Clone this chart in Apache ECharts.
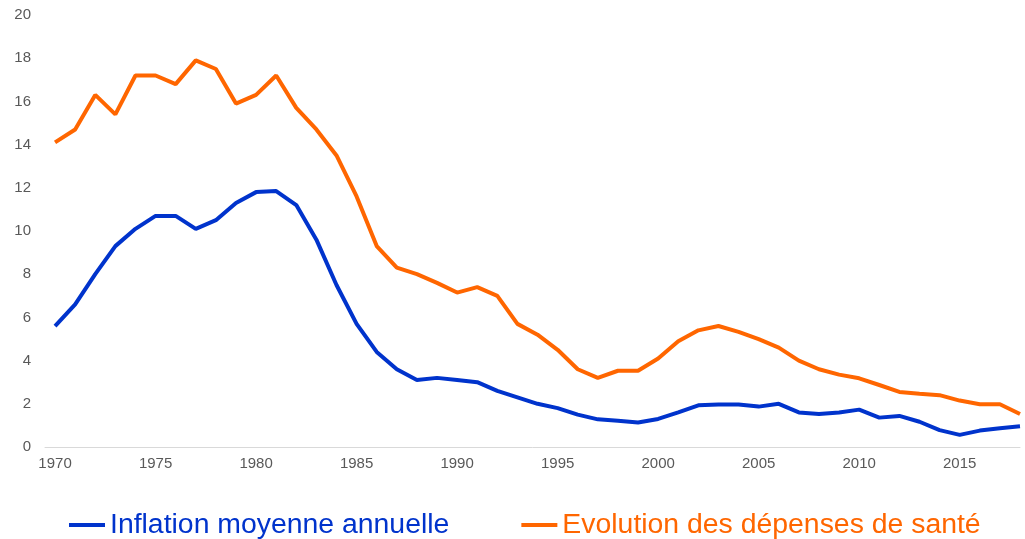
<!DOCTYPE html>
<html>
<head>
<meta charset="utf-8">
<script src="https://cdn.jsdelivr.net/npm/echarts@6/dist/echarts.min.js"></script>
<style>
html,body{margin:0;padding:0;background:#fff;}
#chart{width:1025px;height:539px;}
</style>
</head>
<body>
<div id="chart"></div>
<script>
var years = [];
for (var y = 1970; y <= 2018; y++) years.push(y);

var inflation = [5.6, 6.6, 8.0, 9.3, 10.1, 10.7, 10.7, 10.1, 10.5, 11.3,
  11.8, 11.85, 11.2, 9.6, 7.5, 5.7, 4.4, 3.6, 3.1, 3.2,
  3.1, 3.0, 2.6, 2.3, 2.0, 1.8, 1.5, 1.28, 1.22, 1.13,
  1.3, 1.6, 1.93, 1.97, 1.97, 1.87, 2.0, 1.6, 1.53, 1.6,
  1.73, 1.36, 1.44, 1.17, 0.78, 0.56, 0.76, 0.87, 0.96];

var sante = [14.1, 14.7, 16.3, 15.4, 17.2, 17.2, 16.8, 17.9, 17.5, 15.9,
  16.3, 17.2, 15.7, 14.7, 13.5, 11.6, 9.3, 8.3, 8.0, 7.6,
  7.15, 7.4, 7.0, 5.7, 5.2, 4.5, 3.6, 3.2, 3.53, 3.53,
  4.1, 4.9, 5.4, 5.6, 5.33, 4.99, 4.6, 4.0, 3.6, 3.35,
  3.18, 2.87, 2.55, 2.47, 2.4, 2.15, 1.98, 1.98, 1.53];

var yTicks = [0, 2, 4, 6, 8, 10, 12, 14, 16, 18, 20];
var seriesNames = ['Inflation moyenne annuelle', 'Evolution des dépenses de santé'];
var colors = ['#0033cc', '#ff6600'];

function pairs(vals) {
  return years.map(function (yr, i) { return [yr, vals[i]]; });
}

var chart = echarts.init(document.getElementById('chart'));
chart.setOption({
  animation: false,
  backgroundColor: '#ffffff',
  textStyle: { fontFamily: 'Liberation Sans, Arial, sans-serif' },
  grid: { left: 45, right: 5, top: 15, bottom: 92, containLabel: false },
  xAxis: {
    type: 'value',
    min: 1969.5,
    max: 2018,
    interval: 0.5,
    axisLine: { show: true, lineStyle: { color: '#d9d9d9', width: 1 } },
    axisTick: { show: false },
    splitLine: { show: false },
    axisLabel: {
      color: '#595959',
      fontSize: 15,
      margin: 9,
      formatter: function (v) {
        return (Math.abs(v - Math.round(v)) < 1e-6 && Math.round(v) % 5 === 0) ? String(Math.round(v)) : '';
      }
    }
  },
  yAxis: {
    type: 'value',
    min: yTicks[0],
    max: yTicks[yTicks.length - 1],
    interval: 2,
    axisLine: { show: false },
    axisTick: { show: false },
    splitLine: { show: false },
    axisLabel: { color: '#595959', fontSize: 15, margin: 14 }
  },
  legend: {
    left: 64,
    top: 506,
    icon: 'rect',
    itemWidth: 36,
    itemHeight: 4,
    itemGap: 72,
    textStyle: { fontSize: 28.4, fontFamily: 'Liberation Sans, Arial, sans-serif' },
    data: [
      { name: seriesNames[0], textStyle: { color: colors[0] } },
      { name: seriesNames[1], textStyle: { color: colors[1] } }
    ]
  },
  series: [
    {
      name: seriesNames[0], type: 'line', data: pairs(inflation),
      showSymbol: false, symbol: 'none',
      lineStyle: { color: colors[0], width: 4 },
      itemStyle: { color: colors[0] }
    },
    {
      name: seriesNames[1], type: 'line', data: pairs(sante),
      showSymbol: false, symbol: 'none',
      lineStyle: { color: colors[1], width: 4 },
      itemStyle: { color: colors[1] }
    }
  ]
});
</script>
</body>
</html>
